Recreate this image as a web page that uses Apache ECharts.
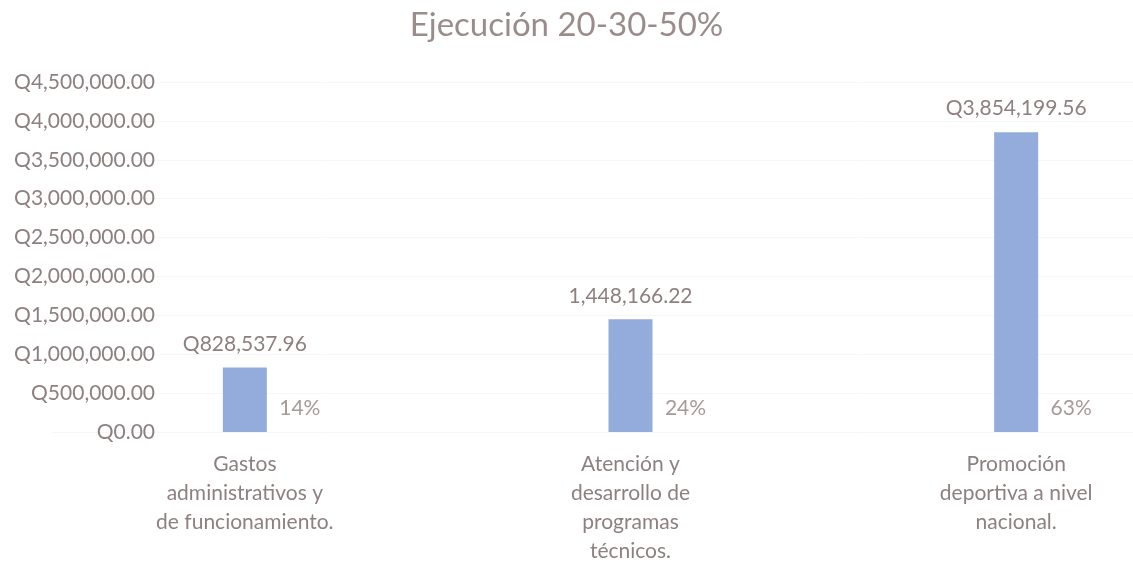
<!DOCTYPE html>
<html>
<head>
<meta charset="utf-8">
<script src="https://cdn.jsdelivr.net/npm/echarts@6/dist/echarts.min.js"></script>
<style>
  html, body { margin: 0; padding: 0; background: #fff; }
  #chart { width: 1133px; height: 584px; }
</style>
</head>
<body>
<div id="chart"></div>
<script>
// data
var categories = [
    'Gastos\nadministrativos y\nde funcionamiento.',
    'Atención y\ndesarrollo de\nprogramas\ntécnicos.',
    'Promoción\ndeportiva a nivel\nnacional.'
];
var montos = [828537.96, 1448166.22, 3854199.56];
var prefijos = ['Q', '', 'Q'];   // the middle label has no Q in the original
var yMax = 4500000;
var yStep = 500000;

var total = montos.reduce(function (a, b) { return a + b; }, 0);
var porcentajes = montos.map(function (v) { return Math.round(v / total * 100); });

function money(v) {
    return v.toLocaleString('en-US', { minimumFractionDigits: 2, maximumFractionDigits: 2 });
}

var txt = '#8e8080';
var myChart = echarts.init(document.getElementById('chart'));

var option = {
    backgroundColor: '#ffffff',
    textStyle: { fontFamily: 'Lato' },
    title: {
        text: 'Ejecución 20-30-50%',
        left: 'center',
        top: 4,
        textStyle: { color: '#9b8c8c', fontSize: 33, fontWeight: 'normal', fontFamily: 'Lato' }
    },
    // plot area runs past the right edge, as in the cropped original
    grid: { left: 52, width: 1157, top: 82, bottom: 152, containLabel: false, outerBoundsMode: 'none' },
    xAxis: {
        type: 'category',
        data: categories,
        axisLine: { show: false },
        axisTick: { show: false },
        axisLabel: {
            interval: 0,
            color: txt,
            fontSize: 21,
            lineHeight: 29,
            margin: 18
        }
    },
    yAxis: {
        type: 'value',
        min: 0,
        max: yMax,
        interval: yStep,
        offset: -107,
        axisLine: { show: false },
        axisTick: { show: false },
        splitLine: { show: true, lineStyle: { color: '#f6f6f6' } },
        axisLabel: {
            color: txt,
            fontSize: 21,
            margin: 4,
            formatter: function (v) { return 'Q' + money(v); }
        }
    },
    series: [
        {
            type: 'bar',
            data: montos,
            barWidth: 44,
            itemStyle: { color: '#93acdc' },
            label: {
                show: true,
                position: 'top',
                distance: 13,
                color: txt,
                fontSize: 21,
                formatter: function (p) { return prefijos[p.dataIndex] + money(p.value); }
            }
        },
        {
            type: 'scatter',
            data: porcentajes.map(function () { return 0; }),
            symbolSize: 0,
            silent: true,
            label: {
                show: true,
                position: 'inside',
                offset: [55, -24],
                color: txt,
                fontSize: 21,
                formatter: function (p) { return porcentajes[p.dataIndex] + '%'; }
            }
        }
    ]
};
myChart.setOption(option);
</script>
</body>
</html>
